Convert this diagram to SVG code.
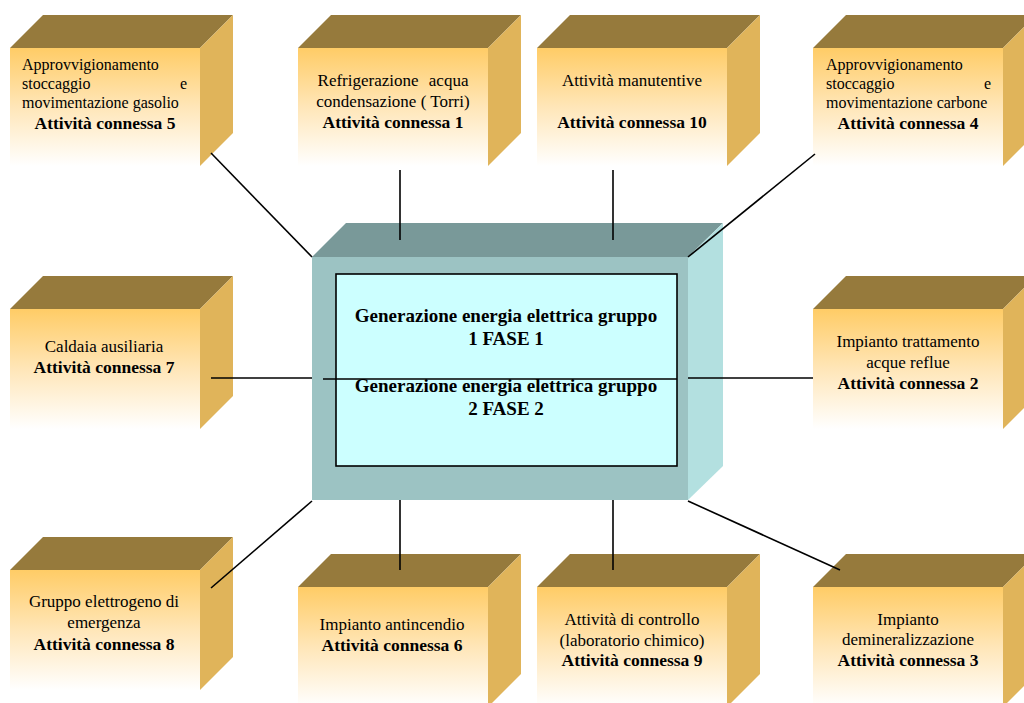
<svg xmlns="http://www.w3.org/2000/svg" width="1024" height="703" viewBox="0 0 1024 703">
<defs>
<linearGradient id="fg" x1="0" y1="0" x2="0" y2="1">
<stop offset="0" stop-color="#FFCC66"/>
<stop offset="0.5" stop-color="#FFE6B8"/>
<stop offset="1" stop-color="#FFFFFF"/>
</linearGradient>
<style>
.top{fill:#967A3C}
.side{fill:#E0B45A}
.front{fill:url(#fg)}
text{font-family:'Liberation Serif','DejaVu Serif',serif}
.t{font-size:17px;fill:#000}
.s{font-size:16px}
.b{font-weight:bold;font-size:17.5px}
.c{text-anchor:middle}
.e{text-anchor:end}
.ctop{fill:#799999}
.cside{fill:#B3E0E0}
.cfront{fill:#9CC3C3}
.inner{fill:#CCFFFF;stroke:#000;stroke-width:1.6}
.ct{font-size:19px;font-weight:bold;text-anchor:middle}
.ln{stroke:#000;stroke-width:1.6;fill:none}
</style>
</defs>
<rect width="1024" height="703" fill="#fff"/>

<g id="box5">
<polygon class="top" points="10,48 43,15 233,15 200,48"/>
<polygon class="side" points="200,48 233,15 233,133 200,166"/>
<rect class="front" x="10" y="48" width="190" height="118"/>
<text class="t s" x="22" y="70">Approvvigionamento</text>
<text class="t s" x="22" y="89">stoccaggio</text>
<text class="t s e" x="187" y="89">e</text>
<text class="t s" x="22" y="108">movimentazione gasolio</text>
<text class="t b c" x="105" y="129">Attività connessa 5</text>
</g>

<g id="box1">
<polygon class="top" points="298,48 331,15 521,15 488,48"/>
<polygon class="side" points="488,48 521,15 521,133 488,166"/>
<rect class="front" x="298" y="48" width="190" height="118"/>
<text class="t c" x="393" y="86" word-spacing="6">Refrigerazione acqua</text>
<text class="t c" x="393" y="107">condensazione ( Torri)</text>
<text class="t b c" x="393" y="128">Attività connessa 1</text>
</g>

<g id="box10">
<polygon class="top" points="537,48 570,15 760,15 727,48"/>
<polygon class="side" points="727,48 760,15 760,133 727,166"/>
<rect class="front" x="537" y="48" width="190" height="118"/>
<text class="t c" x="632" y="86">Attività manutentive</text>
<text class="t b c" x="632" y="128">Attività connessa 10</text>
</g>

<g id="box4">
<polygon class="top" points="813,48 846,15 1036,15 1003,48"/>
<polygon class="side" points="1003,48 1036,15 1036,133 1003,166"/>
<rect class="front" x="813" y="48" width="190" height="118"/>
<text class="t s" x="826" y="70">Approvvigionamento</text>
<text class="t s" x="826" y="89">stoccaggio</text>
<text class="t s e" x="991" y="89">e</text>
<text class="t s" x="826" y="108">movimentazione carbone</text>
<text class="t b c" x="908" y="129">Attività connessa 4</text>
</g>

<g id="box7">
<polygon class="top" points="10,309 43,276 233,276 200,309"/>
<polygon class="side" points="200,309 233,276 233,396 200,429"/>
<rect class="front" x="10" y="309" width="190" height="120"/>
<text class="t c" x="104" y="352">Caldaia ausiliaria</text>
<text class="t b c" x="104" y="373">Attività connessa 7</text>
</g>

<g id="box2">
<polygon class="top" points="813,309 846,276 1036,276 1003,309"/>
<polygon class="side" points="1003,309 1036,276 1036,396 1003,429"/>
<rect class="front" x="813" y="309" width="190" height="120"/>
<text class="t c" x="908" y="347">Impianto trattamento</text>
<text class="t c" x="908" y="368">acque reflue</text>
<text class="t b c" x="908" y="389">Attività connessa 2</text>
</g>

<g id="box8">
<polygon class="top" points="10,570 43,537 233,537 200,570"/>
<polygon class="side" points="200,570 233,537 233,657 200,690"/>
<rect class="front" x="10" y="570" width="190" height="120"/>
<text class="t c" x="104" y="607">Gruppo elettrogeno di</text>
<text class="t c" x="104" y="628">emergenza</text>
<text class="t b c" x="104" y="650">Attività connessa 8</text>
</g>

<g id="box6">
<polygon class="top" points="298,587 331,554 521,554 488,587"/>
<polygon class="side" points="488,587 521,554 521,674 488,707"/>
<rect class="front" x="298" y="587" width="190" height="120"/>
<text class="t c" x="392" y="630">Impianto antincendio</text>
<text class="t b c" x="392" y="651">Attività connessa 6</text>
</g>

<g id="box9">
<polygon class="top" points="537,587 570,554 760,554 727,587"/>
<polygon class="side" points="727,587 760,554 760,674 727,707"/>
<rect class="front" x="537" y="587" width="190" height="120"/>
<text class="t c" x="632" y="625">Attività di controllo</text>
<text class="t c" x="632" y="646">(laboratorio chimico)</text>
<text class="t b c" x="632" y="666">Attività connessa 9</text>
</g>

<g id="box3">
<polygon class="top" points="813,587 846,554 1036,554 1003,587"/>
<polygon class="side" points="1003,587 1036,554 1036,674 1003,707"/>
<rect class="front" x="813" y="587" width="190" height="120"/>
<text class="t c" x="908" y="625">Impianto</text>
<text class="t c" x="908" y="645">demineralizzazione</text>
<text class="t b c" x="908" y="666">Attività connessa 3</text>
</g>

<g id="center">
<polygon class="ctop" points="312,257 346,223 723,223 688,257"/>
<polygon class="cside" points="688,257 723,223 723,466 688,500"/>
<rect class="cfront" x="312" y="257" width="376" height="243"/>
<rect class="inner" x="336" y="274" width="341" height="192"/>
<text class="ct" x="506" y="322">Generazione energia elettrica gruppo</text>
<text class="ct" x="506" y="345">1 FASE 1</text>
<text class="ct" x="506" y="392">Generazione energia elettrica gruppo</text>
<text class="ct" x="506" y="415">2 FASE 2</text>
</g>

<g id="connectors">
<line class="ln" x1="211" y1="153" x2="312" y2="257"/>
<line class="ln" x1="400" y1="170" x2="400" y2="240"/>
<line class="ln" x1="613" y1="170" x2="613" y2="240"/>
<line class="ln" x1="688" y1="257" x2="815" y2="154"/>
<line class="ln" x1="211" y1="378" x2="312" y2="378"/>
<line class="ln" x1="323" y1="379" x2="677" y2="379"/>
<line class="ln" x1="688" y1="378" x2="813" y2="378"/>
<line class="ln" x1="312" y1="501" x2="211" y2="588"/>
<line class="ln" x1="400" y1="500" x2="400" y2="570"/>
<line class="ln" x1="613" y1="500" x2="613" y2="570"/>
<line class="ln" x1="688" y1="501" x2="840" y2="570"/>
</g>
</svg>
